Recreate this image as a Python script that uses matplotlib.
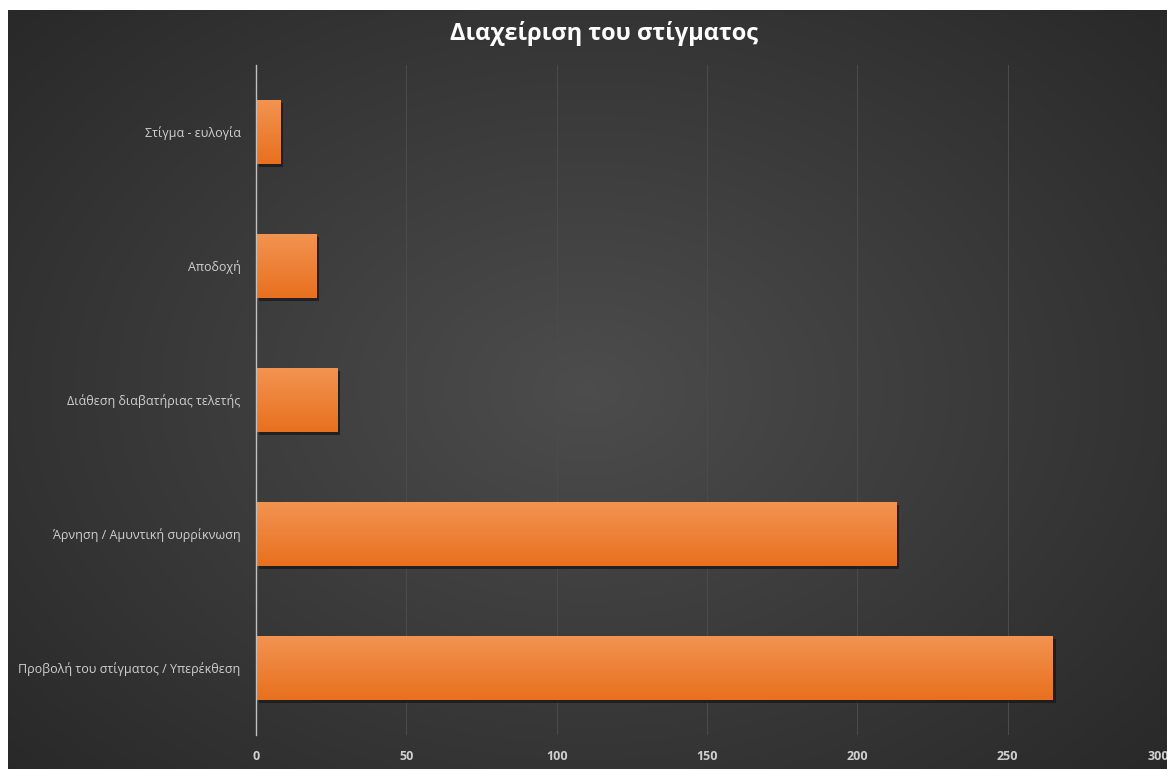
import numpy as np
import matplotlib.pyplot as plt
import matplotlib.patheffects as pe

categories = [
    "Στίγμα - ευλογία",
    "Αποδοχή",
    "Διάθεση διαβατήριας τελετής",
    "Άρνηση / Αμυντική συρρίκνωση",
    "Προβολή του στίγματος / Υπερέκθεση",
]
values = [8, 20, 27, 213, 265]
x_ticks = [0, 50, 100, 150, 200, 250, 300]

W, H = 1167, 769
fig = plt.figure(figsize=(W / 100, H / 100), dpi=100)
fig.patch.set_facecolor("white")

# dark background with a soft radial glow in the middle
bg = fig.add_axes([8 / W, 0, 1 - 8 / W, 1 - 10 / H])
yy, xx = np.mgrid[-1:1:300j, -1:1:450j]
r = np.sqrt((xx / 1.0) ** 2 + (yy / 1.1) ** 2)
glow = np.clip(1 - r / 1.35, 0, 1)
c0, c1 = np.array([0.16, 0.16, 0.16]), np.array([0.30, 0.30, 0.30])
img = c0 + (c1 - c0) * glow[..., None]
bg.imshow(img, aspect="auto", extent=[0, 1, 0, 1])
bg.set_axis_off()

ax = fig.add_axes([256 / W, 1 - 735 / H, (1158 - 256) / W, (735 - 65) / H])
ax.set_facecolor("none")

ypos = np.arange(len(categories))[::-1]
bars = ax.barh(ypos, values, height=0.48, color="#ef7b27", zorder=3,
               path_effects=[pe.SimplePatchShadow(offset=(2, -2), shadow_rgbFace="#1a1a1a", alpha=0.8),
                             pe.Normal()])

# vertical gradient inside each bar (lighter on top)
grad = np.linspace(0, 1, 100)[:, None]
top, bot = np.array([0.95, 0.58, 0.32]), np.array([0.91, 0.44, 0.12])
gimg = bot + (top - bot) * grad[..., None]
for b in bars:
    x0, y0 = b.get_x(), b.get_y()
    im = ax.imshow(gimg, aspect="auto", origin="lower",
                   extent=[x0, x0 + b.get_width(), y0, y0 + b.get_height()], zorder=4)
    im.set_clip_path(b)

ax.set_xlim(0, 300)
ax.set_ylim(-0.5, len(categories) - 0.5)
ax.set_xticks(x_ticks)
ax.set_yticks(ypos)
ax.set_yticklabels(categories)
ax.tick_params(axis="both", length=0, colors="#d0d0d0", labelsize=9)
ax.tick_params(axis="x", pad=11)
ax.tick_params(axis="y", pad=11)
for lab in ax.get_xticklabels() + ax.get_yticklabels():
    lab.set_fontfamily("Open Sans")
for lab in ax.get_xticklabels():
    lab.set_fontweight("bold")

ax.grid(axis="x", color="#4c4c4c", lw=0.7, zorder=0)
for s in ["top", "right", "bottom"]:
    ax.spines[s].set_visible(False)
ax.spines["left"].set_color("#c0c0c0")
ax.spines["left"].set_linewidth(1)
ax.spines["left"].set_zorder(5)

fig.text(0.5 + 21 / W, 1 - 33 / H, "Διαχείριση του στίγματος", ha="center", va="center",
         color="white", fontsize=17, fontweight="bold", family="Open Sans")

fig.savefig("out.png", dpi=100)
